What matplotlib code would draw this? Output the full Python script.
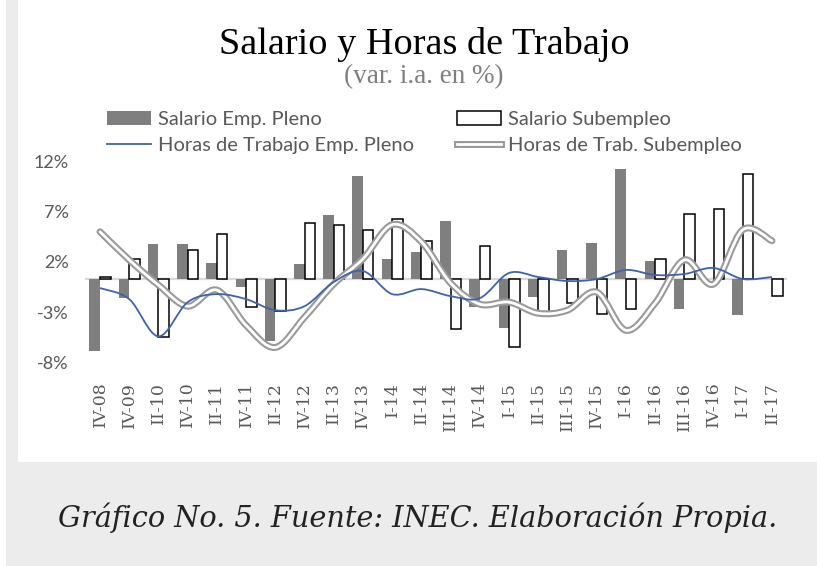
import matplotlib
matplotlib.use("Agg")
import matplotlib.pyplot as plt
import matplotlib.patches as mpatches
import matplotlib.patheffects as pe
import matplotlib.transforms as mtransforms
from matplotlib.path import Path
from matplotlib.lines import Line2D
import numpy as np

categories = ["IV-08", "IV-09", "II-10", "IV-10", "II-11", "IV-11", "II-12", "IV-12",
              "II-13", "IV-13", "I-14", "II-14", "III-14", "IV-14", "I-15", "II-15",
              "III-15", "IV-15", "I-16", "II-16", "III-16", "IV-16", "I-17", "II-17"]

salario_pleno = [-7.2, -1.9, 3.5, 3.5, 1.6, -0.8, -6.2, 1.5, 6.4, 10.2, 2.0, 2.7,
                 5.8, -2.8, -4.9, -1.8, 2.9, 3.6, 10.9, 1.8, -3.0, 0.0, -3.6, 0.0]
salario_sub = [0.2, 2.0, -5.8, 2.9, 4.5, -2.8, -3.2, 5.6, 5.4, 4.9, 6.0, 3.8,
               -5.0, 3.3, -6.8, -3.5, -2.4, -3.5, -3.0, 2.0, 6.5, 7.0, 10.4, -1.7]
horas_pleno = [-0.9, -2.0, -5.7, -2.3, -1.5, -2.0, -3.1, -2.7, -0.3, 0.8, -1.5, -1.0,
               -1.7, -1.9, 0.6, 0.2, -0.2, 0.0, 0.9, 0.4, 0.5, 1.1, 0.0, 0.2]
horas_sub = [4.7, 1.9, -0.6, -2.7, -1.1, -4.6, -6.8, -3.8, -0.5, 2.0, 5.4, 3.7,
             -0.4, -2.5, -2.3, -3.4, -3.1, -1.3, -5.1, -2.4, 1.9, -0.5, 4.9, 3.8]

yticks = [-8, -3, 2, 7, 12]

W, H = 817, 566
fig = plt.figure(figsize=(W / 100, H / 100), dpi=100)
fig.patch.set_facecolor("white")

# background panels
bg = "#ececec"
fig.add_artist(mpatches.Rectangle((6 / W, 0), 1, (H - 462) / H, transform=fig.transFigure,
                                  facecolor=bg, edgecolor="none", zorder=0))
fig.add_artist(mpatches.Rectangle((6 / W, 0), 12 / W, 1, transform=fig.transFigure,
                                  facecolor=bg, edgecolor="none", zorder=0))

# axes geometry (pixel -> figure fraction)
x_left, x_right = 85.4, 786.6
y_top, y_bot = 158.3, 359.5
ax = fig.add_axes([x_left / W, (H - y_bot) / H, (x_right - x_left) / W, (y_bot - y_top) / H])
ax.set_facecolor("none")

n = len(categories)
x = np.arange(n)
bw = 0.36
ax.axhline(0, color="#d9d9d9", lw=1.6, zorder=1)
ax.bar(x - bw / 2, salario_pleno, width=bw, color="#7f7f7f", edgecolor="none", zorder=2)
ax.bar(x + bw / 2, salario_sub, width=bw, color="white", edgecolor="black", lw=1.1, zorder=2)


def smooth_path(xs, ys):
    pts = np.column_stack([xs, ys]).astype(float)
    verts = [pts[0]]
    codes = [Path.MOVETO]
    m = len(pts)
    for i in range(m - 1):
        p0 = pts[i - 1] if i > 0 else pts[i]
        p1 = pts[i]
        p2 = pts[i + 1]
        p3 = pts[i + 2] if i + 2 < m else pts[i + 1]
        c1 = p1 + (p2 - p0) / 6.0
        c2 = p2 - (p3 - p1) / 6.0
        verts += [c1, c2, p2]
        codes += [Path.CURVE4] * 3
    return Path(verts, codes)


blue = "#3f62ab"
ax.add_patch(mpatches.PathPatch(smooth_path(x, horas_pleno), fill=False, edgecolor=blue,
                                lw=1.3, zorder=4))
dbl_fx = [pe.Stroke(linewidth=5.0, foreground="#9a9a9a"), pe.Normal()]
ax.add_patch(mpatches.PathPatch(smooth_path(x, horas_sub), fill=False, edgecolor="white",
                                lw=2.0, zorder=3, path_effects=dbl_fx, capstyle="round"))

ax.set_xlim(-0.5, n - 0.5)
ax.set_ylim(-8, 12)
ax.set_yticks(yticks)
ax.set_yticklabels([f"{v}%" for v in yticks])
ax.set_xticks(x)
ax.set_xticklabels(categories, rotation=90, family="DejaVu Serif", fontsize=12.5, color="#595959")
ax.tick_params(axis="x", length=0, pad=16)
ax.tick_params(axis="y", length=0, pad=12, labelsize=13, labelcolor="#595959")
for lab in ax.get_yticklabels():
    lab.set_family("Lato")
    lab.set_transform(lab.get_transform() + mtransforms.ScaledTranslation(0, -3 / 100, fig.dpi_scale_trans))
for s in ax.spines.values():
    s.set_visible(False)

# legend
h1 = mpatches.Patch(facecolor="#7f7f7f", edgecolor="none")
h2 = Line2D([], [], color=blue, lw=1.3)
h3 = mpatches.Patch(facecolor="white", edgecolor="black", lw=1.1)
h4 = Line2D([], [], color="white", lw=2.0, path_effects=dbl_fx)
leg = fig.legend([h1, h2, h3, h4],
                 ["Salario Emp. Pleno", "Horas de Trabajo Emp. Pleno",
                  "Salario Subempleo", "Horas de Trab. Subempleo"],
                 ncol=2, frameon=False, loc="upper left",
                 bbox_to_anchor=(107 / W, 1 - 111 / H),
                 prop={"family": "Lato", "size": 14.5},
                 handlelength=2.2, handletextpad=0.35, columnspacing=2.1,
                 labelspacing=0.42, borderpad=0, borderaxespad=0)
for t in leg.get_texts():
    t.set_color("#595959")

# titles
fig.text(424 / W, 1 - 45 / H, "Salario y Horas de Trabajo", ha="center", va="center",
         family="Liberation Serif", fontsize=27.5, color="black")
fig.text(424 / W, 1 - 77 / H, "(var. i.a. en %)", ha="center", va="center",
         family="Liberation Serif", fontsize=19.5, color="#7f7f7f")

fig.text(418 / W, 1 - 518 / H, "Gráfico No. 5. Fuente: INEC. Elaboración Propia.",
         ha="center", va="center", family="DejaVu Serif", style="italic",
         fontsize=20.7, color="#222222")

fig.savefig("out.png", dpi=100, facecolor=fig.get_facecolor())
